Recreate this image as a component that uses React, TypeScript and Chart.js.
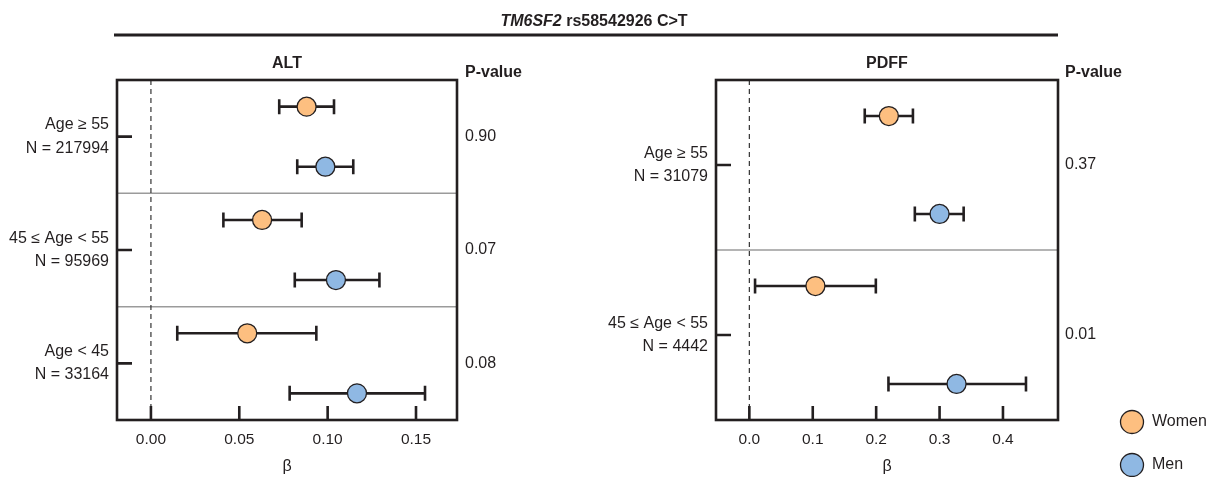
import React, { useEffect, useRef } from "react";
import { Chart, registerables } from "chart.js";

Chart.register(...registerables);

// ---------------- DATA ----------------
const HEADER_GENE = "TM6SF2";
const HEADER_VARIANT = " rs58542926 C>T";
const SERIES_NAMES = ["Women", "Men"];

const ALT_TITLE = "ALT";
const ALT_GROUPS = [
  ["Age ≥ 55", "N = 217994"],
  ["45 ≤ Age < 55", "N = 95969"],
  ["Age < 45", "N = 33164"],
];
const ALT_WOMEN_BETA = [0.0881, 0.0629, 0.0545];
const ALT_WOMEN_LO = [0.0726, 0.041, 0.0149];
const ALT_WOMEN_HI = [0.1036, 0.0853, 0.0936];
const ALT_MEN_BETA = [0.0987, 0.1047, 0.1166];
const ALT_MEN_LO = [0.0828, 0.0814, 0.0785];
const ALT_MEN_HI = [0.1145, 0.1293, 0.1551];
const ALT_PVALUES = ["0.90", "0.07", "0.08"];
const ALT_TICKS = [0, 0.05, 0.1, 0.15];

const PDFF_TITLE = "PDFF";
const PDFF_GROUPS = [
  ["Age ≥ 55", "N = 31079"],
  ["45 ≤ Age < 55", "N = 4442"],
];
const PDFF_WOMEN_BETA = [0.22, 0.1042];
const PDFF_WOMEN_LO = [0.182, 0.009];
const PDFF_WOMEN_HI = [0.258, 0.1995];
const PDFF_MEN_BETA = [0.3, 0.3268];
const PDFF_MEN_LO = [0.261, 0.2194];
const PDFF_MEN_HI = [0.338, 0.4363];
const PDFF_PVALUES = ["0.37", "0.01"];
const PDFF_TICKS = [0, 0.1, 0.2, 0.3, 0.4];

// ---------------- STYLE ----------------
const W = 1206;
const H = 477;
const FONT = "'Liberation Sans', Arial, Helvetica, sans-serif";
const INK = "#231f20";
const WOMEN_FILL = "#fdbf80";
const MEN_FILL = "#8fb8e3";

type PanelCfg = {
  title: string;
  groups: string[][];
  women: { beta: number[]; lo: number[]; hi: number[] };
  men: { beta: number[]; lo: number[]; hi: number[] };
  pvalues: string[];
  ticks: number[];
  decimals: number;
  xMin: number;
  xMax: number;
  offset: number;
  padLeft: number;
  yWidth: number;
  padRight: number;
  pX: number;
  header: boolean;
  legend: boolean;
};

const panelPlugin = {
  id: "forestPanel",
  beforeDatasetsDraw(chart: any, _args: any, opts: any) {
    const cfg: PanelCfg = opts.cfg;
    const { ctx, chartArea: a } = chart;
    const x = chart.scales.x;
    const y = chart.scales.y;
    ctx.save();
    // group separators
    ctx.strokeStyle = "#9b9b9b";
    ctx.lineWidth = 1.5;
    for (let i = 1; i < cfg.groups.length; i++) {
      const py = y.getPixelForValue(i);
      ctx.beginPath();
      ctx.moveTo(a.left, py);
      ctx.lineTo(a.right, py);
      ctx.stroke();
    }
    // zero reference line
    const x0 = x.getPixelForValue(0);
    ctx.setLineDash([5, 4]);
    ctx.strokeStyle = "#333";
    ctx.lineWidth = 1.2;
    ctx.beginPath();
    ctx.moveTo(x0, a.top);
    ctx.lineTo(x0, a.bottom);
    ctx.stroke();
    ctx.setLineDash([]);
    // error bars
    ctx.strokeStyle = INK;
    ctx.lineWidth = 2.6;
    chart.data.datasets.forEach((ds: any) => {
      ds.data.forEach((d: any) => {
        const py = y.getPixelForValue(d.y);
        const xl = x.getPixelForValue(d.lo);
        const xh = x.getPixelForValue(d.hi);
        ctx.beginPath();
        ctx.moveTo(xl, py);
        ctx.lineTo(xh, py);
        ctx.moveTo(xl, py - 7.5);
        ctx.lineTo(xl, py + 7.5);
        ctx.moveTo(xh, py - 7.5);
        ctx.lineTo(xh, py + 7.5);
        ctx.stroke();
      });
    });
    ctx.restore();
  },
  afterDatasetsDraw(chart: any, _args: any, opts: any) {
    const cfg: PanelCfg = opts.cfg;
    const { ctx, chartArea: a } = chart;
    const x = chart.scales.x;
    const y = chart.scales.y;
    ctx.save();
    ctx.strokeStyle = INK;
    ctx.lineWidth = 2.6;
    ctx.strokeRect(a.left, a.top, a.right - a.left, a.bottom - a.top);
    // inward x ticks
    ctx.beginPath();
    x.ticks.forEach((t: any) => {
      const px = x.getPixelForValue(t.value);
      ctx.moveTo(px, a.bottom);
      ctx.lineTo(px, a.bottom - 14);
    });
    // inward y ticks
    y.ticks.forEach((t: any) => {
      const py = y.getPixelForValue(t.value);
      ctx.moveTo(a.left, py);
      ctx.lineTo(a.left + 15, py);
    });
    ctx.stroke();
    ctx.restore();
  },
  afterDraw(chart: any, _args: any, opts: any) {
    const cfg: PanelCfg = opts.cfg;
    const { ctx, chartArea: a } = chart;
    const y = chart.scales.y;
    ctx.save();
    ctx.fillStyle = INK;
    ctx.textBaseline = "middle";
    // panel title
    ctx.font = `bold 16px ${FONT}`;
    ctx.textAlign = "center";
    ctx.fillText(cfg.title, (a.left + a.right) / 2, 64);
    // p-values
    ctx.textAlign = "left";
    ctx.fillText("P-value", cfg.pX, 73);
    ctx.font = `16px ${FONT}`;
    cfg.pvalues.forEach((p, i) => {
      ctx.fillText(p, cfg.pX, y.getPixelForValue(i + 0.5));
    });
    if (cfg.header) {
      ctx.font = `italic bold 16px ${FONT}`;
      const w1 = ctx.measureText(HEADER_GENE).width;
      ctx.font = `bold 16px ${FONT}`;
      const w2 = ctx.measureText(HEADER_VARIANT).width;
      const sx = 594 - (w1 + w2) / 2;
      ctx.textBaseline = "alphabetic";
      ctx.font = `italic bold 16px ${FONT}`;
      ctx.fillText(HEADER_GENE, sx, 26);
      ctx.font = `bold 16px ${FONT}`;
      ctx.fillText(HEADER_VARIANT, sx + w1, 26);
      ctx.strokeStyle = INK;
      ctx.lineWidth = 3;
      ctx.beginPath();
      ctx.moveTo(114, 35);
      ctx.lineTo(1058, 35);
      ctx.stroke();
    }
    if (cfg.legend) {
      ctx.textBaseline = "middle";
      ctx.font = `16px ${FONT}`;
      const ys = [422, 465];
      chart.data.datasets.forEach((ds: any, i: number) => {
        ctx.beginPath();
        ctx.arc(1132, ys[i], 11.5, 0, Math.PI * 2);
        ctx.fillStyle = ds.backgroundColor;
        ctx.fill();
        ctx.strokeStyle = INK;
        ctx.lineWidth = 1.3;
        ctx.stroke();
        ctx.fillStyle = INK;
        ctx.fillText(ds.label, 1152, ys[i]);
      });
    }
    ctx.restore();
  },
};

function buildChart(canvas: HTMLCanvasElement, cfg: PanelCfg) {
  const n = cfg.groups.length;
  const mk = (s: { beta: number[]; lo: number[]; hi: number[] }, sign: number) =>
    s.beta.map((b, i) => ({ x: b, y: i + 0.5 + sign * cfg.offset, lo: s.lo[i], hi: s.hi[i] }));
  return new Chart(canvas, {
    type: "scatter",
    data: {
      datasets: [
        {
          label: SERIES_NAMES[0],
          data: mk(cfg.women, -1),
          backgroundColor: WOMEN_FILL,
          borderColor: INK,
          borderWidth: 1.3,
          pointRadius: 9.5,
          pointHoverRadius: 9.5,
        },
        {
          label: SERIES_NAMES[1],
          data: mk(cfg.men, 1),
          backgroundColor: MEN_FILL,
          borderColor: INK,
          borderWidth: 1.3,
          pointRadius: 9.5,
          pointHoverRadius: 9.5,
        },
      ] as any,
    },
    options: {
      responsive: false,
      animation: false,
      events: [],
      layout: { padding: { left: cfg.padLeft, right: cfg.padRight, top: 80, bottom: 0 } },
      plugins: {
        legend: { display: false },
        tooltip: { enabled: false },
        title: { display: false },
        forestPanel: { cfg },
      } as any,
      scales: {
        x: {
          type: "linear",
          min: cfg.xMin,
          max: cfg.xMax,
          grid: { display: false, drawTicks: false },
          border: { display: false },
          afterBuildTicks: (scale: any) => {
            scale.ticks = cfg.ticks.map((v) => ({ value: v }));
          },
          afterFit: (scale: any) => {
            scale.height = 57;
          },
          ticks: {
            padding: 10,
            color: INK,
            font: { family: FONT, size: 15.5 },
            callback: (v: any) => Number(v).toFixed(cfg.decimals),
          },
          title: {
            display: true,
            text: "β",
            color: INK,
            font: { family: FONT, size: 16 },
            padding: { top: 0, bottom: 1 },
          },
        },
        y: {
          type: "linear",
          min: 0,
          max: n,
          reverse: true,
          grid: { display: false, drawTicks: false },
          border: { display: false },
          afterBuildTicks: (scale: any) => {
            scale.ticks = cfg.groups.map((_, i) => ({ value: i + 0.5 }));
          },
          afterFit: (scale: any) => {
            scale.width = cfg.yWidth;
          },
          ticks: {
            padding: 8,
            color: INK,
            font: { family: FONT, size: 16, lineHeight: 1.45 },
            callback: (_v: any, i: number) => cfg.groups[i],
          },
        },
      },
    },
    plugins: [panelPlugin as any],
  });
}

export default function App() {
  const refA = useRef<HTMLCanvasElement>(null);
  const refB = useRef<HTMLCanvasElement>(null);

  useEffect(() => {
    const altCfg: PanelCfg = {
      title: ALT_TITLE,
      groups: ALT_GROUPS,
      women: { beta: ALT_WOMEN_BETA, lo: ALT_WOMEN_LO, hi: ALT_WOMEN_HI },
      men: { beta: ALT_MEN_BETA, lo: ALT_MEN_LO, hi: ALT_MEN_HI },
      pvalues: ALT_PVALUES,
      ticks: ALT_TICKS,
      decimals: 2,
      xMin: -0.0192,
      xMax: 0.1732,
      offset: 0.265,
      padLeft: 0,
      yWidth: 117,
      padRight: W - 457,
      pX: 465,
      header: true,
      legend: false,
    };
    const pdffCfg: PanelCfg = {
      title: PDFF_TITLE,
      groups: PDFF_GROUPS,
      women: { beta: PDFF_WOMEN_BETA, lo: PDFF_WOMEN_LO, hi: PDFF_WOMEN_HI },
      men: { beta: PDFF_MEN_BETA, lo: PDFF_MEN_LO, hi: PDFF_MEN_HI },
      pvalues: PDFF_PVALUES,
      ticks: PDFF_TICKS,
      decimals: 1,
      xMin: -0.0526,
      xMax: 0.4868,
      offset: 0.288,
      padLeft: 600,
      yWidth: 116,
      padRight: W - 1058,
      pX: 1065,
      header: false,
      legend: true,
    };
    const a = buildChart(refA.current!, altCfg);
    const b = buildChart(refB.current!, pdffCfg);
    return () => {
      a.destroy();
      b.destroy();
    };
  }, []);

  const cs: React.CSSProperties = { position: "absolute", left: 0, top: 0, width: W, height: H };
  return (
    <div style={{ position: "absolute", left: 0, top: 0, width: W, height: H, background: "#fff" }}>
      <canvas ref={refA} width={W} height={H} style={cs} />
      <canvas ref={refB} width={W} height={H} style={cs} />
    </div>
  );
}
